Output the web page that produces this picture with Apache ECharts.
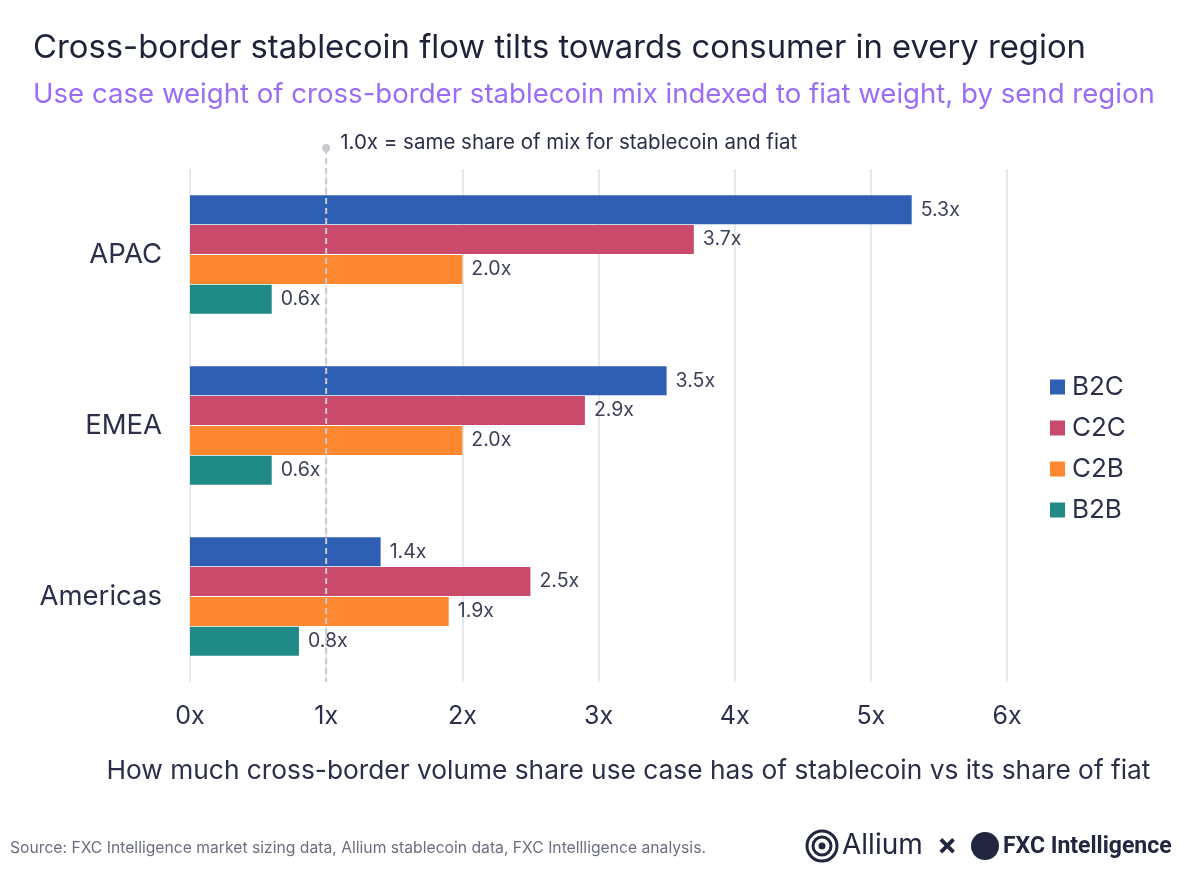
<!DOCTYPE html>
<html>
<head>
<meta charset="utf-8">
<script src="https://cdn.jsdelivr.net/npm/echarts@6/dist/echarts.min.js"></script>
<style>
  html, body { margin: 0; padding: 0; background: #fff; }
  #chart { width: 1200px; height: 875px; }
</style>
</head>
<body>
<div id="chart"></div>
<script>
"use strict"

const regions = ["APAC", "EMEA", "Americas"]
const useCases = ["B2C", "C2C", "C2B", "B2B"]
const b2c = [5.3, 3.5, 1.4]
const c2c = [3.7, 2.9, 2.5]
const c2b = [2.0, 2.0, 1.9]
const b2b = [0.6, 0.6, 0.8]
const xTicks = [0, 1, 2, 3, 4, 5, 6]
const parityValue = 1

const colors = ["#2f5fb3", "#c94a6b", "#fe8730", "#1f8a86"]
const ink = "#2b2f4a"
const font = "Inter, 'Noto Sans', sans-serif"

const seriesValues = [b2c, c2c, c2b, b2b]

const chart = echarts.init(document.getElementById("chart"), null, { renderer: "canvas" })

const option = {
  backgroundColor: "#ffffff",
  animation: false,
  textStyle: { fontFamily: font },
  title: [
    {
      text: "Cross-border stablecoin flow tilts towards consumer in every region",
      left: 28, top: 27,
      textStyle: { fontFamily: font, fontSize: 32.8, fontWeight: 400, color: "#1f2339" },
    },
    {
      text: "Use case weight of cross-border stablecoin mix indexed to fiat weight, by send region",
      left: 28, top: 76,
      textStyle: { fontFamily: font, fontSize: 27.6, fontWeight: 400, color: "#9a6cf7" },
    },
    {
      text: "Source: FXC Intelligence market sizing data, Allium stablecoin data, FXC Intellligence analysis.",
      left: 5, top: 835,
      textStyle: { fontFamily: font, fontSize: 15.7, fontWeight: 400, color: "#6b6e80" },
    },
  ],
  legend: {
    orient: "vertical",
    left: 1045, top: 369,
    itemWidth: 15, itemHeight: 15, itemGap: 15,
    icon: "rect",
    data: useCases,
    textStyle: { fontFamily: font, fontSize: 26, color: ink, padding: [0, 0, 0, 2] },
  },
  grid: { left: 190, right: 193, top: 169, bottom: 193, containLabel: false },
  xAxis: {
    type: "value",
    min: 0, max: 6, interval: 1,
    name: "How much cross-border volume share use case has of stablecoin vs its share of fiat",
    nameLocation: "middle",
    nameGap: 76,
    nameTextStyle: { fontFamily: font, fontSize: 26.3, color: ink, padding: [0, 0, 0, 60] },
    axisLine: { show: false },
    axisTick: { show: false },
    axisLabel: {
      margin: 22, fontSize: 25, color: ink, fontFamily: font,
      formatter: (v) => (xTicks.includes(v) ? v + "x" : ""),
    },
    splitLine: { show: true, lineStyle: { color: "#e2e2e6", width: 1.5 } },
  },
  yAxis: {
    type: "category",
    data: regions,
    inverse: true,
    axisLine: { show: false },
    axisTick: { show: false },
    axisLabel: { margin: 28, fontSize: 27.5, color: ink, fontFamily: font },
  },
  series: useCases.map((name, i) => ({
    name,
    type: "bar",
    data: seriesValues[i],
    barWidth: 29,
    barGap: "3%",
    itemStyle: { color: colors[i] },
    label: {
      show: true,
      position: "right",
      distance: 9,
      fontSize: 19.5,
      color: "#3c3f58",
      fontFamily: font,
      formatter: (p) => p.value.toFixed(1) + "x",
    },
  })),
}

chart.setOption(option)

// parity reference line at 1x, drawn from the axis scale
const px = chart.convertToPixel({ xAxisIndex: 0 }, parityValue)
const gridBottom = 875 - 193
chart.setOption({
  graphic: [
    {
      type: "line",
      shape: { x1: px, y1: 148, x2: px, y2: gridBottom },
      style: { stroke: "#c9c9d0", lineWidth: 2, lineDash: [6, 4] },
      z: 10,
    },
    {
      type: "circle",
      shape: { cx: px, cy: 148, r: 4 },
      style: { fill: "#c9c9d0" },
      z: 10,
    },
    {
      type: "text",
      x: px + 14, y: 143,
      style: {
        text: "1.0x = same share of mix for stablecoin and fiat",
        fontFamily: font, fontSize: 20.5, fill: ink,
        textVerticalAlign: "middle",
      },
      z: 10,
    },
    // logos (approximated as text + rings)
    { type: "circle", shape: { cx: 822, cy: 846, r: 15 }, style: { fill: "none", stroke: "#23263f", lineWidth: 3 } },
    { type: "circle", shape: { cx: 822, cy: 846, r: 9 }, style: { fill: "none", stroke: "#23263f", lineWidth: 3 } },
    { type: "circle", shape: { cx: 822, cy: 846, r: 3.5 }, style: { fill: "#23263f" } },
    {
      type: "text", x: 842, y: 846,
      style: { text: "Allium", fontFamily: font, fontSize: 28, fill: "#23263f", textVerticalAlign: "middle" },
    },
    {
      type: "text", x: 937, y: 846,
      style: { text: "×", fontFamily: font, fontSize: 30, fontWeight: 700, fill: "#23263f", textVerticalAlign: "middle" },
    },
    {
      type: "circle", shape: { cx: 985, cy: 846, r: 14 }, style: { fill: "#23263f" },
    },
    {
      type: "text", x: 1003, y: 847,
      style: { text: "FXC Intelligence", fontFamily: "Roboto, sans-serif", fontSize: 23, fontWeight: 700, fill: "#23263f", textVerticalAlign: "middle" },
    },
  ],
})
</script>
</body>
</html>
